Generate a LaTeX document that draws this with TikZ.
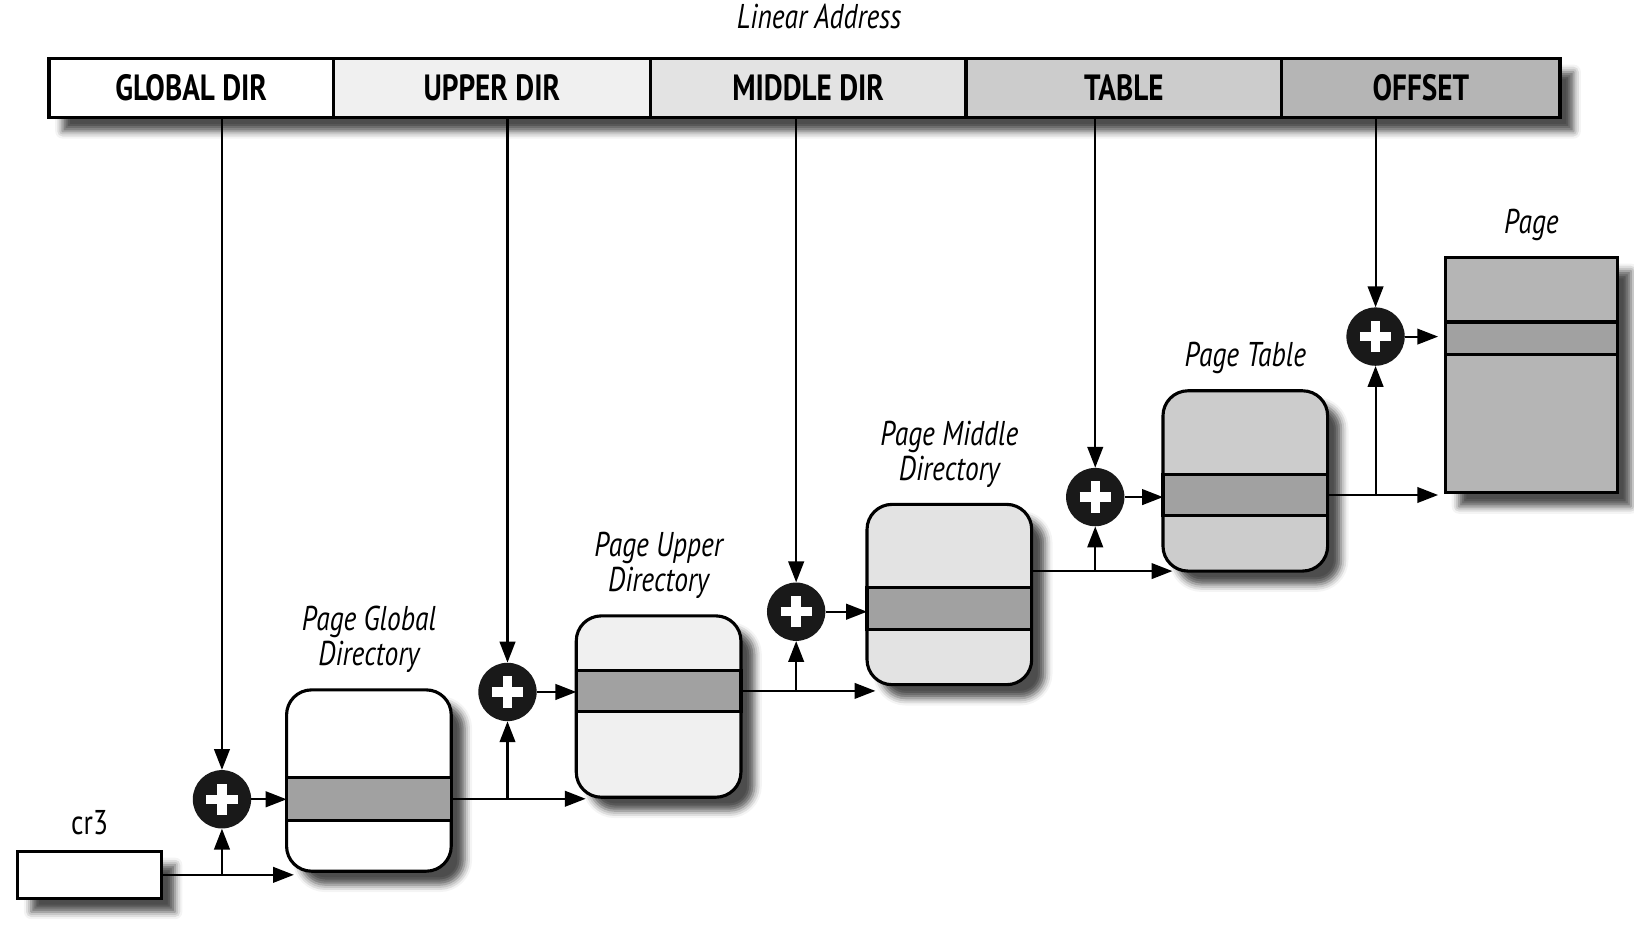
\documentclass[tikz,border=0pt]{standalone}
\usepackage{fontspec}
\setmainfont{PT Sans}[FakeStretch=0.80]
\usetikzlibrary{positioning, arrows.meta, calc, shadows.blur}

\definecolor{tonea}{gray}{0.94}
\definecolor{toneb}{gray}{0.89}
\definecolor{tonec}{gray}{0.80}
\definecolor{toned}{gray}{0.71}
\definecolor{rowgray}{gray}{0.63}

\begin{document}
\begin{tikzpicture}[x=1pt, y=-1pt]
    % Styles
    \tikzset{
        field/.style={rectangle, draw, line width=3pt, minimum height=57pt, inner sep=0pt, outer sep=0pt, font=\fontsize{35}{38}\selectfont\bfseries},
        dirbox/.style={rectangle, draw, line width=3pt, rounded corners=24pt, minimum width=158pt, inner sep=0pt, outer sep=0pt, shade},
        rowband/.style={rectangle, draw, line width=3pt, fill=rowgray, minimum width=158pt, minimum height=40pt, inner sep=0pt, outer sep=0pt, anchor=north},
        adder/.style={circle, fill=black!90, minimum size=56pt, inner sep=0pt,
            path picture={\draw[white, line width=9pt]
                ([xshift=-15pt]path picture bounding box.center) -- ([xshift=15pt]path picture bounding box.center)
                ([yshift=-15pt]path picture bounding box.center) -- ([yshift=15pt]path picture bounding box.center);}},
        wire/.style={line width=2pt, -{Triangle[length=20pt, width=15pt]}},
        caption/.style={font=\fontsize{33}{34}\selectfont\itshape, align=center, inner sep=2pt},
        shade/.style={blur shadow={shadow xshift=13pt, shadow yshift=-13pt, shadow blur radius=7pt, shadow opacity=70}}
    }

    \useasboundingbox (0,0) rectangle (1568,900);

    % --- Linear address ---
    % frame only carries the shadow of the whole bar
    \node[shade, fill=white, minimum width=1450pt, minimum height=57pt, inner sep=0pt, outer sep=0pt, anchor=west] (bar) at (47,84.5) {};
    \node[field, fill=white, minimum width=273pt, right=0pt of bar.west] (gdir) {GLOBAL DIR};
    \node[field, fill=tonea, minimum width=304pt, right=0pt of gdir] (udir) {UPPER DIR};
    \node[field, fill=toneb, minimum width=303pt, right=0pt of udir] (mdir) {MIDDLE DIR};
    \node[field, fill=tonec, minimum width=303pt, right=0pt of mdir] (tdir) {TABLE};
    \node[field, fill=toned, minimum width=267pt, right=0pt of tdir] (ofs) {OFFSET};
    \node[caption] (linaddr) at (786,16) {Linear Address};

    % --- Tables ---
    \node[dirbox, fill=white, minimum height=174pt] (pgd) at (354,749) {};
    \node[rowband, minimum height=41pt] (pgdrow) at ($(pgd.north)+(0,84)$) {};
    \node[caption, above=14pt of pgd] {Page Global\\Directory};

    \node[dirbox, fill=tonea, minimum height=174pt] (pud) at (632,678) {};
    \node[rowband] (pudrow) at ($(pud.north)+(0,52)$) {};
    \node[caption, above=14pt of pud] {Page Upper\\Directory};

    \node[dirbox, fill=toneb, minimum height=173pt] (pmd) at (911,570.5) {};
    \node[rowband] (pmdrow) at ($(pmd.north)+(0,80)$) {};
    \node[caption, above=14pt of pmd] {Page Middle\\Directory};

    \node[dirbox, fill=tonec, minimum height=173pt] (pt) at (1195,461.5) {};
    \node[rowband] (ptrow) at ($(pt.north)+(0,80)$) {};
    \node[caption, above=14pt of pt] {Page Table};

    \node[dirbox, rounded corners=0pt, fill=toned, minimum width=165pt, minimum height=226pt] (page) at (1469.5,360) {};
    \node[rowband, minimum width=165pt, minimum height=31pt] (pagerow) at ($(page.north)+(0,62)$) {};
    \node[caption, above=14pt of page] {Page};

    % cr3 register
    \node[rectangle, draw, line width=3pt, fill=white, minimum width=138pt, minimum height=45pt, inner sep=0pt, outer sep=0pt, shade] (cr3) at (86,839.5) {};
    \node[font=\fontsize{33}{34}\selectfont, above=12pt of cr3] {cr3};

    % --- Adders ---
    \node[adder] (add1) at (213,767) {};
    \node[adder] (add2) at (487,664) {};
    \node[adder] (add3) at (764,587) {};
    \node[adder] (add4) at (1051,477) {};
    \node[adder] (add5) at (1320,323) {};

    % --- Connections ---
    % index fields down to the adders
    \draw[wire] (add1 |- gdir.south) -- (add1);
    \draw[wire] (add2 |- udir.south) -- (add2);
    \draw[wire] (add3 |- mdir.south) -- (add3);
    \draw[wire] (add4 |- tdir.south) -- (add4);
    \draw[wire] (add5 |- ofs.south) -- (add5);

    % base addresses
    \draw[wire] (cr3.east) -- ([xshift=7pt]cr3.east -| pgd.west);
    \draw[wire] (cr3.east -| add1) -- (add1);
    \draw[wire] (pgdrow.east) -- ([xshift=9pt]pgdrow.east -| pud.west);
    \draw[wire] (pgdrow.east -| add2) -- (add2);
    \draw[wire] (pudrow.east) -- ([xshift=8pt]pudrow.east -| pmd.west);
    \draw[wire] (pudrow.east -| add3) -- (add3);
    \draw[wire] (pmd.east |- pt.south) -- ([xshift=9pt]pt.south west);
    \draw[wire] (pmd.east -| add4) ++(0,-22) -- (add4);
    \draw[wire] (ptrow.east) -- ([xshift=-7pt]ptrow.east -| page.west);
    \draw[wire] (ptrow.east -| add5) -- (add5);

    % adder outputs
    \draw[wire] (add1) -- (add1 -| pgd.west);
    \draw[wire] (add2) -- (add2 -| pud.west);
    \draw[wire] (add3) -- (add3 -| pmd.west);
    \draw[wire] (add4) -- (add4 -| pt.west);
    \draw[wire] (add5) -- ([xshift=-7pt]add5 -| page.west);
\end{tikzpicture}
\end{document}
